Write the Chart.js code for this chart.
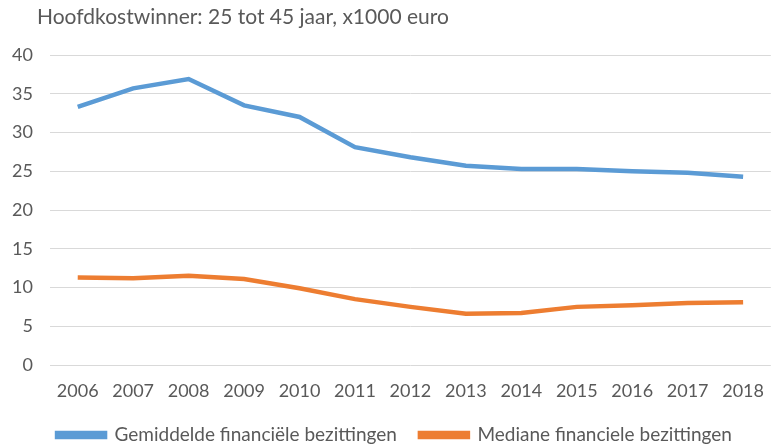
<!DOCTYPE html>
<html>
<head>
<meta charset="utf-8">
<script src="https://cdn.jsdelivr.net/npm/chart.js@4"></script>
<style>
  html, body { margin: 0; padding: 0; background: #fff; }
  #wrap { width: 779px; height: 447px; }
</style>
</head>
<body>
<div id="wrap"><canvas id="chart"></canvas></div>
<script>
const titleText = 'Hoofdkostwinner: 25 tot 45 jaar, x1000 euro';
const years = ['2006', '2007', '2008', '2009', '2010', '2011', '2012', '2013', '2014', '2015', '2016', '2017', '2018'];
const gemiddelde = [33.3, 35.7, 36.9, 33.5, 32.0, 28.1, 26.8, 25.7, 25.3, 25.3, 25.0, 24.8, 24.3];
const mediaan = [11.3, 11.2, 11.5, 11.1, 9.9, 8.5, 7.5, 6.6, 6.7, 7.5, 7.7, 8.0, 8.1];
const yTicks = [0, 5, 10, 15, 20, 25, 30, 35, 40];

const textColor = '#595959';
Chart.defaults.font.family = 'Lato, "Open Sans", sans-serif';
Chart.defaults.font.size = 18;
Chart.defaults.color = textColor;

// title sits a bit right of the axis labels, so draw it by hand
const titlePlugin = {
    id: 'topTitle',
    afterDraw(chart) {
        const c = chart.ctx;
        c.save();
        c.font = '21px Lato, "Open Sans", sans-serif';
        c.fillStyle = textColor;
        c.textAlign = 'left';
        c.textBaseline = 'alphabetic';
        c.fillText(titleText, 37, 23.5);
        c.restore();
    }
};

const ctx = document.getElementById('chart').getContext('2d');
const chart = new Chart(ctx, {
    type: 'line',
    data: {
        labels: years,
        datasets: [{
            label: 'Gemiddelde financiële bezittingen',
            data: gemiddelde,
            borderColor: '#5B9BD5',
            backgroundColor: '#5B9BD5',
            borderWidth: 4.5,
            pointRadius: 0,
            fill: false
        }, {
            label: 'Mediane financiele bezittingen',
            data: mediaan,
            borderColor: '#ED7D31',
            backgroundColor: '#ED7D31',
            borderWidth: 4.5,
            pointRadius: 0,
            fill: false
        }]
    },
    plugins: [titlePlugin],
    options: {
        responsive: true,
        maintainAspectRatio: false,
        animation: false,
        layout: { padding: { left: 10, right: 0, top: 55, bottom: -7.5 } },
        plugins: {
            title: { display: false },
            legend: {
                position: 'bottom',
                labels: {
                    boxWidth: 48,
                    boxHeight: 4,
                    padding: 23,
                    color: textColor,
                    font: { size: 19 }
                }
            },
            tooltip: { enabled: false }
        },
        scales: {
            x: {
                offset: true,
                grid: { display: false, drawTicks: false },
                border: { display: false },
                ticks: { padding: 15, maxRotation: 0, autoSkip: false },
                afterFit: axis => { axis.height = 37.5; }
            },
            y: {
                min: 0,
                max: 40,
                afterBuildTicks: axis => { axis.ticks = yTicks.map(v => ({ value: v })); },
                grid: { color: '#d9d9d9', lineWidth: 1, drawTicks: false },
                border: { display: false },
                ticks: { padding: 17 },
                afterFit: axis => { axis.width = 40; }
            }
        }
    }
});
</script>
</body>
</html>
